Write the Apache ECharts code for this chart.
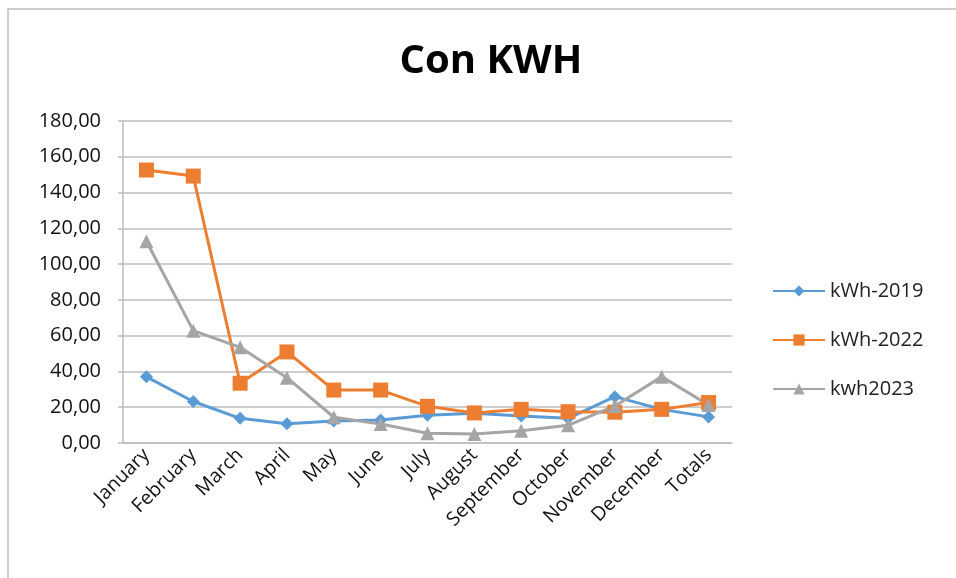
<!DOCTYPE html>
<html>
<head>
<meta charset="utf-8">
<script src="https://cdn.jsdelivr.net/npm/echarts@6/dist/echarts.min.js"></script>
<style>
html, body { margin: 0; padding: 0; background: #fff; }
#chart { width: 956px; height: 578px; }
</style>
</head>
<body>
<div id="chart"></div>
<script>
const months = ['January', 'February', 'March', 'April', 'May', 'June', 'July', 'August', 'September', 'October', 'November', 'December', 'Totals'];
const kwh2019 = [37, 23.2, 13.8, 10.8, 12.3, 12.9, 15.5, 16.6, 15.1, 13.8, 25.9, 18.8, 14.6];
const kwh2022 = [152.6, 149.2, 33.4, 50.9, 29.6, 29.6, 20.5, 16.8, 18.8, 17.5, 17.2, 18.8, 22.6];
const kwh2023 = [112.8, 62.8, 53.5, 36.5, 14.4, 10.6, 5.5, 5, 6.9, 9.9, 20.7, 37.1, 21.2];

const font = '"Open Sans", "Liberation Sans", sans-serif';

const myChart = echarts.init(document.getElementById('chart'));

let option = {
    animation: false,
    textStyle: { fontFamily: font },
    title: {
        text: 'Con KWH',
        left: 486,
        textAlign: 'center',
        top: 37,
        textStyle: { fontFamily: font, fontSize: 40, fontWeight: 'bold', color: '#000' }
    },
    graphic: [{
        type: 'rect',
        shape: { x: 8, y: 9, width: 1000, height: 620 },
        style: { fill: 'none', stroke: '#bdbdbd', lineWidth: 1.5 },
        silent: true
    }],
    legend: {
        orient: 'vertical',
        left: 767,
        top: 276,
        itemWidth: 52,
        itemHeight: 14,
        itemGap: 29,
        textStyle: { fontFamily: font, fontSize: 20, color: '#222' },
        data: ['kWh-2019', 'kWh-2022', 'kwh2023']
    },
    grid: { left: 123, right: 224, top: 121, bottom: 135 },
    xAxis: {
        type: 'category',
        data: months,
        axisLine: { lineStyle: { color: '#bdbdbd', width: 1.5 } },
        axisTick: { show: false },
        axisLabel: { rotate: 45, fontSize: 19.5, color: '#111', margin: 9, interval: 0 }
    },
    yAxis: {
        type: 'value',
        min: 0,
        max: 180,
        interval: 20,
        axisLine: { show: true, lineStyle: { color: '#bdbdbd', width: 1.5 } },
        axisTick: { show: true, length: 5, lineStyle: { color: '#bdbdbd', width: 1.5 } },
        splitLine: { lineStyle: { color: '#bdbdbd', width: 1.5 } },
        axisLabel: {
            fontSize: 20,
            color: '#111',
            margin: 22,
            formatter: function (v) { return v.toFixed(2).replace('.', ','); }
        }
    },
    series: [
        {
            name: 'kWh-2019',
            type: 'line',
            data: kwh2019,
            color: '#5b9bd5',
            symbol: 'diamond',
            symbolSize: 13,
            lineStyle: { width: 3 }
        },
        {
            name: 'kWh-2022',
            type: 'line',
            data: kwh2022,
            color: '#ed7d31',
            symbol: 'rect',
            symbolSize: 15,
            lineStyle: { width: 3 }
        },
        {
            name: 'kwh2023',
            type: 'line',
            data: kwh2023,
            color: '#a5a5a5',
            symbol: 'triangle',
            symbolSize: 14,
            lineStyle: { width: 3 }
        }
    ]
};

myChart.setOption(option);
</script>
</body>
</html>
